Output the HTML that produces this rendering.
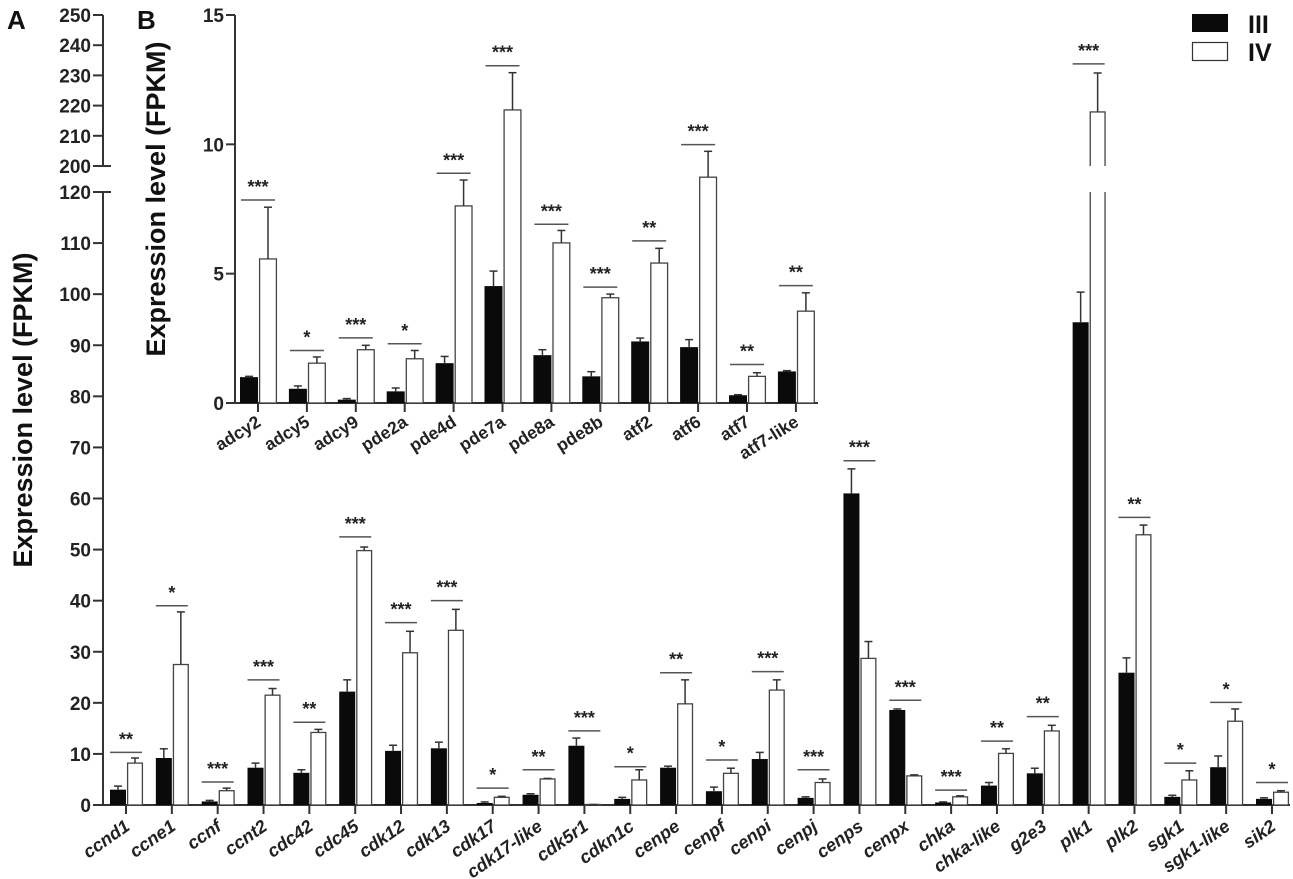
<!DOCTYPE html>
<html><head><meta charset="utf-8">
<style>
html,body{margin:0;padding:0;background:#fff;}
svg{display:block;font-family:"Liberation Sans",Arial,sans-serif;}
.tk{font-size:19px;font-weight:bold;fill:#222;}
.xl{font-size:18px;font-weight:bold;font-style:italic;fill:#222;}
.xi{font-size:17.5px;font-weight:bold;fill:#222;}
.st{font-size:18px;font-weight:bold;fill:#222;}
</style></head>
<body>
<svg id="chart" width="1293" height="879" viewBox="0 0 1293 879" xmlns="http://www.w3.org/2000/svg">
<text x="7" y="29" font-size="26" font-weight="bold" fill="#111">A</text>
<text x="137" y="29" font-size="26" font-weight="bold" fill="#111">B</text>
<text transform="translate(32,410) rotate(-90)" text-anchor="middle" font-size="27" font-weight="bold" fill="#111">Expression level (FPKM)</text>
<text transform="translate(165,199) rotate(-90)" text-anchor="middle" font-size="27" font-weight="bold" fill="#111">Expression level (FPKM)</text>
<g>
<rect x="1192" y="14" width="36" height="18" fill="#0a0a0a"/>
<rect x="1192.5" y="42.5" width="35" height="18" fill="#fff" stroke="#333" stroke-width="1.2"/>
<text x="1248" y="33" font-size="25" font-weight="bold" fill="#111">III</text>
<text x="1248" y="61" font-size="25" font-weight="bold" fill="#111">IV</text>
</g>
<g id="main"></g>
<g id="inset"></g>
</svg>
<script>
// ---- main chart data ----
const mainCats = ["ccnd1","ccne1","ccnf","ccnt2","cdc42","cdc45","cdk12","cdk13","cdk17","cdk17-like","cdk5r1","cdkn1c","cenpe","cenpf","cenpi","cenpj","cenps","cenpx","chka","chka-like","g2e3","plk1","plk2","sgk1","sgk1-like","sik2"];
const mainIII = [3,9.2,0.7,7.3,6.3,22.2,10.6,11.1,0.4,2,11.6,1.2,7.3,2.7,9,1.4,61,18.6,0.5,3.8,6.2,94.5,25.9,1.6,7.4,1.2];
const mainIIIerr = [3.7,11,0.9,8.2,6.9,24.5,11.7,12.3,0.6,2.2,13.1,1.5,7.6,3.5,10.3,1.6,65.8,18.8,0.6,4.4,7.2,100.4,28.8,1.9,9.6,1.4];
const mainIV = [8.2,27.5,2.8,21.5,14.2,49.8,29.8,34.2,1.5,5.1,0.1,4.9,19.8,6.2,22.5,4.4,28.7,5.7,1.6,10.1,14.5,217.9,52.9,4.9,16.4,2.5];
const mainIVerr = [9.2,37.8,3.3,22.8,14.8,50.5,34,38.3,1.7,5.2,0.1,6.9,24.5,7.2,24.5,5.1,32,5.9,1.8,11,15.6,230.8,54.8,6.7,18.8,2.8];
const mainSigLevel = [10.3,39,4.5,24.5,16.2,52.5,35.7,40,3.3,6.9,14.5,7.5,25.9,8.8,26.1,6.9,67.4,20.5,2.9,12.5,17.3,233.8,56.3,8.2,20.1,4.4];
const mainSig = ["**","*","***","***","**","***","***","***","*","**","***","*","**","*","***","***","***","***","***","**","**","***","**","*","*","*"];
const mainTicksLow = [0,10,20,30,40,50,60,70,80,90,100,110,120];
const mainTicksHigh = [200,210,220,230,240,250];
// ---- inset data ----
const insetCats = ["adcy2","adcy5","adcy9","pde2a","pde4d","pde7a","pde8a","pde8b","atf2","atf6","atf7","atf7-like"];
const insetIII = [1.0,0.55,0.13,0.45,1.54,4.52,1.85,1.03,2.38,2.16,0.3,1.22];
const insetIIIerr = [1.03,0.66,0.17,0.58,1.8,5.1,2.06,1.21,2.51,2.45,0.32,1.25];
const insetIV = [5.57,1.54,2.06,1.71,7.62,11.33,6.19,4.07,5.41,8.73,1.03,3.55];
const insetIVerr = [7.57,1.78,2.23,2.03,8.62,12.77,6.67,4.21,5.98,9.73,1.17,4.26];
const insetSigLevel = [7.85,2.03,2.52,2.29,8.88,13.04,6.91,4.48,6.27,9.99,1.49,4.54];
const insetSig = ["***","*","***","*","***","***","***","***","**","***","**","**"];
const insetTicks = [0,5,10,15];

const NS="http://www.w3.org/2000/svg";
function mk(parent,tag,attrs,text){const e=document.createElementNS(NS,tag);for(const k in attrs)e.setAttribute(k,attrs[k]);if(text!==undefined)e.textContent=text;parent.appendChild(e);return e;}

const Y0=805, BRK_LO=192, BRK_HI=166;
function yMain(v){ if(v<=120) return Y0 - v*(Y0-BRK_LO)/120; return BRK_HI - (v-200)*(BRK_HI-15)/50; }
function xMain(i){ return 126 + i*45.84; }
const AXM=103;
const gm=document.getElementById('main');
let e;
e=mk(gm,'line',{x1:AXM,y1:BRK_LO,x2:AXM,y2:Y0+1,stroke:'#333','stroke-width':2});


e=mk(gm,'line',{x1:AXM,y1:15,x2:AXM,y2:BRK_HI,stroke:'#333','stroke-width':2});


e=mk(gm,'line',{x1:AXM,y1:Y0,x2:1290,y2:Y0,stroke:'#333','stroke-width':2});


mainTicksLow.concat(mainTicksHigh).forEach(t=>{
  const y=yMain(t);
  const len=(t===120||t===200)?8:0;
  e=mk(gm,'line',{x1:AXM-10,y1:y,x2:AXM+len,y2:y,stroke:'#333','stroke-width':2});
  
  
  e=mk(gm,'text',{x:AXM-12,y:y+7,'text-anchor':'end',class:'tk'},String(t));
  
  
});
function drawBar(g,x,w,v,err,yf,base,black,brk){
  const top=yf(v);
  if(black){
    e=mk(g,'rect',{x:x,y:top,width:w,height:base-top,fill:'#0a0a0a'});
    
    
  } else {
    e=mk(g,'rect',{x:x+0.6,y:top,width:w-1.2,height:base-top,fill:'#fff',stroke:'#444','stroke-width':1.3});
    
    
    if(brk && v>150){
      e=mk(g,'rect',{x:x-1,y:BRK_HI,width:w+2,height:BRK_LO-BRK_HI,fill:'#fff'});
      
      
    }
  }
  const cx=x+w/2, ey=yf(err);
  if(ey<top-0.5){
    e=mk(g,'line',{x1:cx,y1:ey,x2:cx,y2:top,stroke:'#333','stroke-width':1.5});
    
    
  }
  e=mk(g,'line',{x1:cx-4,y1:ey,x2:cx+4,y2:ey,stroke:'#333','stroke-width':1.5});
  
  
}
mainCats.forEach((c,i)=>{
  const x=xMain(i);
  drawBar(gm,x-16,16,mainIII[i],mainIIIerr[i],yMain,Y0,true,true);
  drawBar(gm,x+1,16,mainIV[i],mainIVerr[i],yMain,Y0,false,true);
  e=mk(gm,'line',{x1:x,y1:Y0,x2:x,y2:Y0+9,stroke:'#333','stroke-width':2});
  
  
  const sy=yMain(mainSigLevel[i]);
  e=mk(gm,'line',{x1:x-16,y1:sy,x2:x+16,y2:sy,stroke:'#555','stroke-width':1.5});
  
  
  e=mk(gm,'text',{x:x,y:sy-7,'text-anchor':'middle',class:'st'},mainSig[i]);
  
  
  e=mk(gm,'text',{transform:`translate(${x+5},${Y0+24}) rotate(-35)`,'text-anchor':'end',class:'xl'},c);
  
  
});

const IY0=403, IAX=235;
function yIn(v){ return IY0 - v*(IY0-15)/15; }
function xIn(i){ return 258 + i*48.9; }
const gi=document.getElementById('inset');
e=mk(gi,'line',{x1:IAX,y1:15,x2:IAX,y2:IY0+1,stroke:'#333','stroke-width':2});


e=mk(gi,'line',{x1:IAX,y1:IY0,x2:818,y2:IY0,stroke:'#333','stroke-width':2});


insetTicks.forEach(t=>{
  const y=yIn(t);
  e=mk(gi,'line',{x1:IAX-9,y1:y,x2:IAX,y2:y,stroke:'#333','stroke-width':2});
  
  
  e=mk(gi,'text',{x:IAX-11,y:y+7,'text-anchor':'end',class:'tk'},String(t));
  
  
});
insetCats.forEach((c,i)=>{
  const x=xIn(i);
  drawBar(gi,x-18,18,insetIII[i],insetIIIerr[i],yIn,IY0,true,false);
  drawBar(gi,x+1,18,insetIV[i],insetIVerr[i],yIn,IY0,false,false);
  e=mk(gi,'line',{x1:x,y1:IY0,x2:x,y2:IY0+9,stroke:'#333','stroke-width':2});
  
  
  const sy=yIn(insetSigLevel[i]);
  e=mk(gi,'line',{x1:x-17,y1:sy,x2:x+17,y2:sy,stroke:'#555','stroke-width':1.5});
  
  
  e=mk(gi,'text',{x:x,y:sy-7,'text-anchor':'middle',class:'st'},insetSig[i]);
  
  
  e=mk(gi,'text',{transform:`translate(${x+4},${IY0+22}) rotate(-32)`,'text-anchor':'end',class:'xi'},c);
  
  
});
</script>
</body></html>
